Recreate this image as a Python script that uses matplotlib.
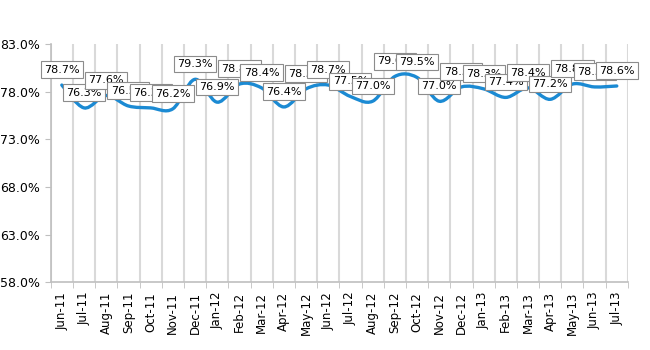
#!/usr/bin/env python

import numpy as np
import matplotlib.pyplot as plt
from matplotlib.path import Path
from matplotlib.patches import PathPatch

months = ['Jun-11', 'Jul-11', 'Aug-11', 'Sep-11', 'Oct-11', 'Nov-11', 'Dec-11',
          'Jan-12', 'Feb-12', 'Mar-12', 'Apr-12', 'May-12', 'Jun-12', 'Jul-12',
          'Aug-12', 'Sep-12', 'Oct-12', 'Nov-12', 'Dec-12', 'Jan-13', 'Feb-13',
          'Mar-13', 'Apr-13', 'May-13', 'Jun-13', 'Jul-13']
values = [78.7, 76.3, 77.6, 76.5, 76.3, 76.2, 79.3,
          76.9, 78.8, 78.4, 76.4, 78.3, 78.7, 77.5,
          77.0, 79.6, 79.5, 77.0, 78.5, 78.3, 77.4,
          78.4, 77.2, 78.8, 78.5, 78.6]
yticks = [58, 63, 68, 73, 78, 83]

LINE = '#1b8ad3'
GRID = '#d9d9d9'


def smooth_path(x, y):
    # catmull-rom style bezier through the points, like excel's smoothed line
    pts = np.column_stack([x, y])
    verts = [pts[0]]
    codes = [Path.MOVETO]
    n = len(pts)
    for i in range(n - 1):
        p0 = pts[max(i - 1, 0)]
        p1 = pts[i]
        p2 = pts[i + 1]
        p3 = pts[min(i + 2, n - 1)]
        c1 = p1 + (p2 - p0) / 6.0
        c2 = p2 - (p3 - p1) / 6.0
        verts += [c1, c2, p2]
        codes += [Path.CURVE4] * 3
    return Path(verts, codes)


fig = plt.figure(figsize=(6.5, 3.5), dpi=100)
ax = fig.add_axes([0.078, 0.194, 0.888, 0.68])

x = np.arange(len(months))
ax.add_patch(PathPatch(smooth_path(x, values), fc='none', ec=LINE, lw=2.4,
                       capstyle='round', zorder=3))

for xi, v in zip(x, values):
    ax.annotate('%.1f%%' % v, (xi, v), xytext=(0, 11), textcoords='offset points',
                ha='center', va='center', fontsize=8, zorder=5,
                bbox=dict(boxstyle='square,pad=0.3', fc='white', ec='#8c8c8c', lw=0.8))

ax.set_xlim(-0.5, len(months) - 0.5)
ax.set_ylim(58, 83)
ax.set_yticks(yticks)
ax.set_yticklabels(['%.1f%%' % t for t in yticks], fontsize=9)

ax.set_xticks(x)
ax.set_xticklabels(months, rotation=90, fontsize=8.5)
ax.set_xticks(np.arange(len(months) + 1) - 0.5, minor=True)
ax.tick_params(axis='x', which='major', length=0, pad=7)
ax.tick_params(axis='x', which='minor', length=4, color='#bfbfbf')
ax.tick_params(axis='y', length=4, color='#bfbfbf')
ax.grid(axis='x', which='minor', color=GRID, lw=1.5)

for s in ['top', 'right']:
    ax.spines[s].set_visible(False)
for s in ['left', 'bottom']:
    ax.spines[s].set_color('#bfbfbf')
    ax.spines[s].set_linewidth(1.2)

plt.savefig('out.png', dpi=100)
